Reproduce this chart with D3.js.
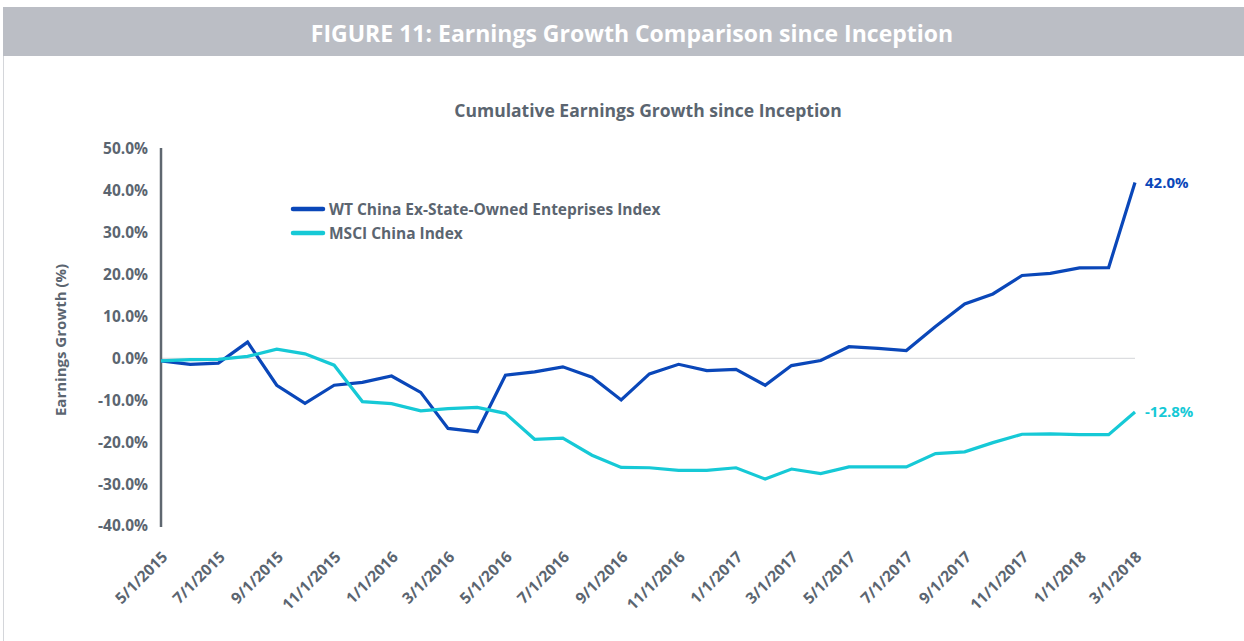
<!DOCTYPE html>
<html>
<head>
<meta charset="utf-8">
<script src="https://cdn.jsdelivr.net/npm/d3@7"></script>
<style>
  body { margin: 0; background: #fff; }
  svg { display: block; font-family: 'Open Sans', Lato, sans-serif; }
</style>
</head>
<body>
<svg></svg>
<script>
// Data
var dates = ['5/1/2015', '6/1/2015', '7/1/2015', '8/1/2015', '9/1/2015', '10/1/2015', '11/1/2015', '12/1/2015',
  '1/1/2016', '2/1/2016', '3/1/2016', '4/1/2016', '5/1/2016', '6/1/2016', '7/1/2016', '8/1/2016',
  '9/1/2016', '10/1/2016', '11/1/2016', '12/1/2016', '1/1/2017', '2/1/2017', '3/1/2017', '4/1/2017',
  '5/1/2017', '6/1/2017', '7/1/2017', '8/1/2017', '9/1/2017', '10/1/2017', '11/1/2017', '12/1/2017',
  '1/1/2018', '2/1/2018', '3/1/2018'];
var wtValues = [-0.6, -1.4, -1.1, 3.9, -6.4, -10.7, -6.4, -5.7, -4.2, -8.1,
  -16.7, -17.5, -4.0, -3.2, -2.0, -4.5, -9.9, -3.7, -1.4, -2.9,
  -2.6, -6.4, -1.7, -0.5, 2.8, 2.4, 1.9, 7.6, 13.0, 15.4,
  19.8, 20.3, 21.6, 21.7, 42.0];
var msciValues = [-0.6, -0.3, -0.2, 0.5, 2.2, 1.1, -1.6, -10.3, -10.8, -12.5,
  -12.0, -11.7, -13.1, -19.3, -19.0, -23.1, -26.0, -26.1, -26.7, -26.7,
  -26.1, -28.8, -26.4, -27.5, -25.9, -25.9, -25.9, -22.7, -22.3, -20.1,
  -18.1, -18.0, -18.2, -18.2, -12.8];
var yTicks = [50, 40, 30, 20, 10, 0, -10, -20, -30, -40];
var seriesNames = ['WT China Ex-State-Owned Enteprises Index', 'MSCI China Index'];
var seriesColors = ['#0a47b9', '#16c9d6'];

// Dimensions
var width = 1244;
var height = 641;
var plotLeft = 161;
var plotRight = 1135;
var plotTop = 149;
var plotBottom = 526;
var textColor = '#5b6570';

var parsedDate = d3.timeParse('%m/%d/%Y');

var svg = d3.select('svg')
  .attr('width', width)
  .attr('height', height);

// Frame and header bar
svg.append('rect')
  .attr('x', 3.5).attr('y', 7.5)
  .attr('width', width).attr('height', height + 10)
  .attr('fill', 'none')
  .attr('stroke', '#d4d6da');

svg.append('rect')
  .attr('x', 3).attr('y', 7)
  .attr('width', width).attr('height', 49)
  .attr('fill', '#bbbec5');

svg.append('text')
  .attr('x', 632).attr('y', 42)
  .attr('text-anchor', 'middle')
  .attr('fill', '#fff')
  .attr('font-size', 23)
  .attr('font-weight', 'bold')
  .text('FIGURE 11: Earnings Growth Comparison since Inception');

svg.append('text')
  .attr('x', 648).attr('y', 117)
  .attr('text-anchor', 'middle')
  .attr('fill', textColor)
  .attr('font-size', 17.5)
  .attr('font-weight', 'bold')
  .text('Cumulative Earnings Growth since Inception');

// Scales
var x = d3.scaleTime()
  .domain(d3.extent(dates, function (d) { return parsedDate(d); }))
  .range([plotLeft, plotRight]);

var y = d3.scaleLinear()
  .domain([-40, 50])
  .range([plotBottom, plotTop]);

// Zero line
svg.append('line')
  .attr('x1', plotLeft).attr('x2', plotRight)
  .attr('y1', y(0)).attr('y2', y(0))
  .attr('stroke', '#dcdde0')
  .attr('stroke-width', 1.2);

// Y axis
var yAxis = d3.axisLeft(y)
  .tickValues(yTicks)
  .tickFormat(function (d) { return d.toFixed(1) + '%'; })
  .tickSize(0)
  .tickPadding(13);

var yG = svg.append('g')
  .attr('transform', 'translate(' + plotLeft + ',0)')
  .call(yAxis);

yG.select('.domain')
  .attr('stroke', '#5f6770')
  .attr('stroke-width', 2.5)
  .attr('d', 'M0,' + (plotTop - 1) + 'V' + (plotBottom + 1));

yG.selectAll('text')
  .attr('fill', textColor)
  .attr('font-size', 15.5)
  .attr('font-weight', 'bold')
  .attr('font-family', "'Open Sans', sans-serif");

// Y label
svg.append('text')
  .attr('transform', 'translate(66,' + 340 + ')rotate(-90)')
  .attr('text-anchor', 'middle')
  .attr('fill', textColor)
  .attr('font-size', 15)
  .attr('font-weight', 'bold')
  .text('Earnings Growth (%)');

// X axis labels, every other month
var xAxis = d3.axisBottom(x)
  .tickValues(dates.filter(function (d, i) { return i % 2 === 0; }).map(parsedDate))
  .tickFormat(d3.timeFormat('%-m/%-d/%Y'))
  .tickSize(0);

var xG = svg.append('g')
  .attr('transform', 'translate(0,' + plotBottom + ')')
  .call(xAxis);

xG.select('.domain').remove();

xG.selectAll('text')
  .attr('fill', textColor)
  .attr('font-size', 15.5)
  .attr('font-weight', 'bold')
  .attr('font-family', "'Open Sans', sans-serif")
  .attr('text-anchor', 'end')
  .attr('dy', 0)
  .attr('y', 0)
  .attr('transform', 'translate(7,32)rotate(-45)');

// Lines
var allSeries = [wtValues, msciValues];

var line = d3.line()
  .x(function (d, i) { return x(parsedDate(dates[i])); })
  .y(function (d) { return y(d); });

svg.selectAll('.series')
  .data(allSeries)
  .enter()
  .append('path')
    .attr('class', 'series')
    .attr('d', line)
    .attr('fill', 'none')
    .attr('stroke', function (d, i) { return seriesColors[i]; })
    .attr('stroke-width', 3.2)
    .attr('stroke-linejoin', 'miter');

// End labels
svg.selectAll('.end-label')
  .data(allSeries)
  .enter()
  .append('text')
    .attr('class', 'end-label')
    .attr('x', plotRight + 10)
    .attr('y', function (d) { return y(d[d.length - 1]) + 5; })
    .attr('fill', function (d, i) { return seriesColors[i]; })
    .attr('font-size', 15)
    .attr('font-weight', 'bold')
    .text(function (d) { return d[d.length - 1].toFixed(1) + '%'; });

// Legend
var legend = svg.selectAll('.legend')
  .data(seriesNames)
  .enter()
  .append('g')
    .attr('class', 'legend')
    .attr('transform', function (d, i) { return 'translate(293,' + (209 + i * 24) + ')'; });

legend.append('line')
  .attr('x1', 0).attr('x2', 30)
  .attr('stroke', function (d, i) { return seriesColors[i]; })
  .attr('stroke-width', 4.5)
  .attr('stroke-linecap', 'round');

legend.append('text')
  .attr('x', 36).attr('y', 5.5)
  .attr('fill', textColor)
  .attr('font-size', 15.5)
  .attr('font-weight', 'bold')
  .text(function (d) { return d; });
</script>
</body>
</html>
